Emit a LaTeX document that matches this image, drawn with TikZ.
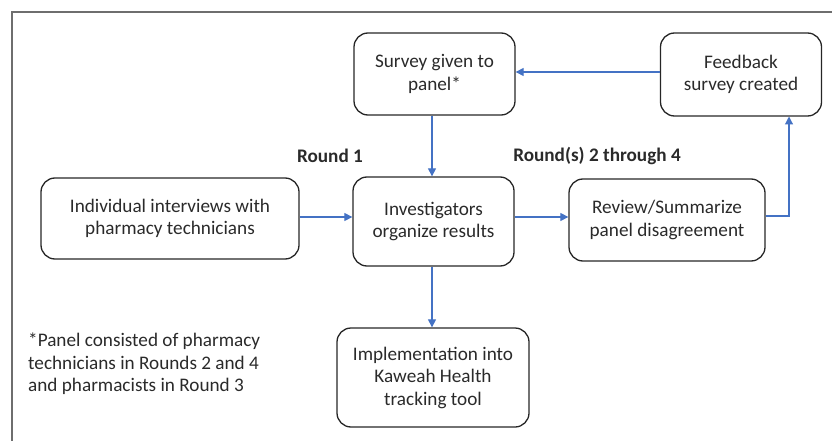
\documentclass[tikz,border=0pt]{standalone}
\usepackage{fontspec}
\setmainfont{Carlito}
\usetikzlibrary{arrows.meta}
\definecolor{arrowblue}{HTML}{4472C4}
\definecolor{boxline}{HTML}{262626}
\definecolor{txt}{HTML}{2A2A2A}
\definecolor{frame}{HTML}{6E6E6E}
\begin{document}
\begin{tikzpicture}[x=1pt,y=-1pt,
  box/.style={draw=boxline,line width=1.3pt,rounded corners=14pt,align=center,
    text=txt,font=\fontsize{19.2}{22.5}\selectfont,inner sep=0pt},
  conn/.style={draw=arrowblue,line width=1.2pt,-{Triangle[length=8pt,width=8pt]}},
  lbl/.style={text=txt,font=\fontsize{19.2}{22.5}\selectfont,inner sep=0pt}]
\useasboundingbox (0,0) rectangle (832,441);
\draw[frame,line width=1.6pt] (12,441) -- (12,12) -- (832,12);
\node[box,minimum width=161pt,minimum height=82pt] (surv) at (434.5,74) {Survey given to\\panel*};
\node[box,minimum width=161pt,minimum height=83pt] (feed) at (741,74.5) {Feedback\\survey created};
\node[box,minimum width=258pt,minimum height=81pt] (indiv) at (170,218.5) {Individual interviews with\\pharmacy technicians};
\node[box,minimum width=161pt,minimum height=89pt] (inv) at (433.5,221.5) {Investigators\\organize results};
\node[box,minimum width=196pt,minimum height=82pt] (rev) at (667,220) {Review/Summarize\\panel disagreement};
\node[box,minimum width=192pt,minimum height=99pt] (impl) at (433,377.5) {Implementation into\\Kaweah Health\\tracking tool};
\node[lbl,font=\fontsize{19.2}{22.5}\selectfont\bfseries] (r1) at (330,156) {Round 1};
\node[lbl,font=\fontsize{19.2}{22.5}\selectfont\bfseries] (r2) at (597,156) {Round(s) 2 through 4};
\node[lbl,anchor=north west,align=left] (note) at (28,333) {*Panel consisted of pharmacy\\technicians in Rounds 2 and 4\\and pharmacists in Round 3};
\coordinate (fbin) at (789,116.5);
\draw[conn] (feed.west |- 0,72) -- (surv.east |- 0,72);
\draw[conn] (surv.south -| 432,0) -- (inv.north -| 432,0);
\draw[conn] (indiv.east |- 0,217) -- (inv.west |- 0,217);
\draw[conn] (inv.east |- 0,217) -- (rev.west |- 0,217);
\draw[conn] (rev.east |- 0,216) -| (fbin);
\draw[conn] (inv.south -| 432,0) -- (impl.north -| 432,0);
\end{tikzpicture}
\end{document}
